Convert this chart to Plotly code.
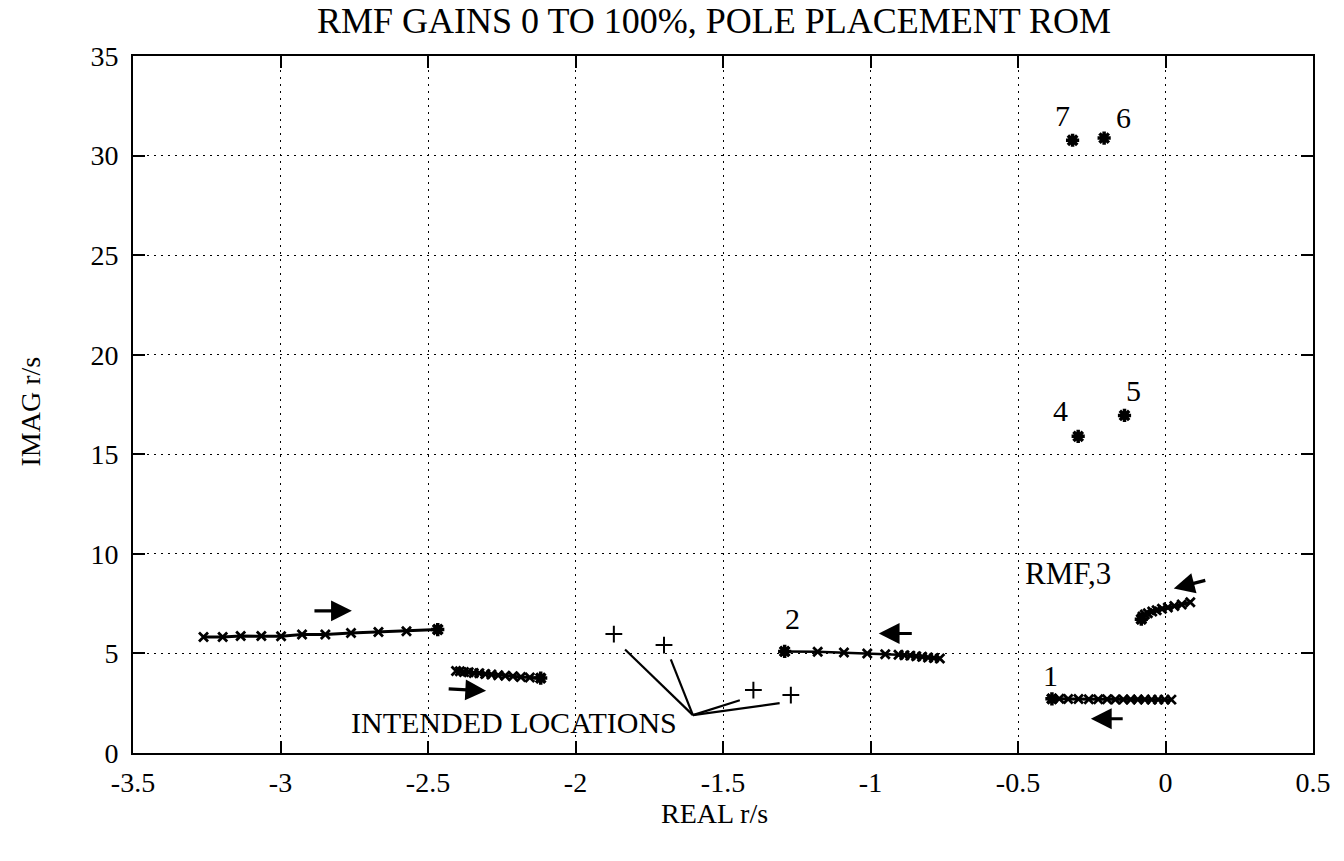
import plotly.graph_objects as go

FONT = "Liberation Serif"

# ---------------- data ----------------
x_ticks = [-3.5, -3, -2.5, -2, -1.5, -1, -0.5, 0, 0.5]
x_tick_text = ["-3.5", "-3", "-2.5", "-2", "-1.5", "-1", "-0.5", "0", "0.5"]
y_ticks = [0, 5, 10, 15, 20, 25, 30, 35]
y_tick_text = ["0", "5", "10", "15", "20", "25", "30", "35"]

# root-locus branches (gain 0 -> 100 %), last point = 100 % gain
locA_x = [-3.261, -3.196, -3.135, -3.065, -2.998, -2.927, -2.848, -2.761, -2.668, -2.573, -2.467]
locA_y = [5.83, 5.83, 5.87, 5.87, 5.86, 5.95, 5.95, 6.03, 6.08, 6.11, 6.20]

locB_x = [-2.405, -2.392, -2.378, -2.362, -2.345, -2.326, -2.306, -2.285, -2.262, -2.238, -2.212, -2.185, -2.155, -2.118]
locB_y = [4.12, 4.10, 4.07, 4.05, 4.02, 4.00, 3.97, 3.94, 3.91, 3.88, 3.85, 3.82, 3.79, 3.76]

loc2_x = [-0.765, -0.785, -0.805, -0.825, -0.845, -0.865, -0.885, -0.905, -0.950, -1.011, -1.090, -1.179, -1.291]
loc2_y = [4.74, 4.77, 4.80, 4.83, 4.86, 4.89, 4.91, 4.93, 4.96, 5.00, 5.05, 5.08, 5.10]

loc3_x = [0.084, 0.055, 0.030, 0.008, -0.012, -0.030, -0.045, -0.060, -0.070, -0.078, -0.082]
loc3_y = [7.57, 7.46, 7.38, 7.31, 7.24, 7.17, 7.10, 7.02, 6.95, 6.85, 6.72]

loc1_x = [0.020, -0.003, -0.025, -0.047, -0.070, -0.094, -0.118, -0.143, -0.170, -0.198, -0.228, -0.260, -0.295, -0.330, -0.360, -0.385]
loc1_y = [2.68, 2.68, 2.68, 2.68, 2.69, 2.69, 2.69, 2.69, 2.69, 2.70, 2.70, 2.70, 2.71, 2.71, 2.72, 2.72]

# fixed poles 4..7
pole_x = [-0.296, -0.139, -0.208, -0.315]
pole_y = [15.9, 16.95, 30.88, 30.77]

# intended locations
tgt_x = [-1.870, -1.700, -1.397, -1.270]
tgt_y = [5.97, 5.42, 3.16, 2.91]

# leader lines for "INTENDED LOCATIONS"
lead_origin = (-1.602, 1.90)
lead_end_x = [-1.832, -1.677, -1.443, -1.308]
lead_end_y = [5.20, 4.70, 2.65, 2.50]

# direction arrows: tail -> head
arr_tail_x = [-2.890, -2.435, -0.855, 0.140, -0.140]
arr_tail_y = [7.14, 3.22, 6.00, 8.69, 1.72]
arr_head_x = [-2.758, -2.303, -0.972, 0.028, -0.253]
arr_head_y = [7.14, 3.12, 6.00, 8.26, 1.72]

# text labels
lab_text = ["1", "2", "4", "5", "6", "7", "RMF,3"]
lab_x = [-0.389, -1.265, -0.355, -0.107, -0.141, -0.349, -0.332]
lab_y = [3.9, 6.75, 17.2, 18.2, 31.9, 32.0, 9.0]

fig = go.Figure()

def branch(xs, ys, lw=3):
    fig.add_trace(go.Scatter(
        x=xs, y=ys, mode="lines+markers",
        line=dict(color="black", width=lw),
        marker=dict(symbol="x-thin", size=9, line=dict(color="black", width=2.8)),
        showlegend=False, hoverinfo="skip"))
    fig.add_trace(go.Scatter(
        x=[xs[-1]], y=[ys[-1]], mode="markers",
        marker=dict(symbol="asterisk", size=11, line=dict(color="black", width=3.5)),
        showlegend=False, hoverinfo="skip"))

branch(locA_x, locA_y)
branch(locB_x, locB_y)
branch(loc2_x, loc2_y, 2.5)
branch(loc3_x, loc3_y)
branch(loc1_x, loc1_y)

fig.add_trace(go.Scatter(
    x=pole_x, y=pole_y, mode="markers",
    marker=dict(symbol="asterisk", size=11, line=dict(color="black", width=3.5)),
    showlegend=False, hoverinfo="skip"))

fig.add_trace(go.Scatter(
    x=tgt_x, y=tgt_y, mode="markers",
    marker=dict(symbol="cross-thin", size=12, line=dict(color="black", width=2)),
    showlegend=False, hoverinfo="skip"))

lx, ly = [], []
for ex, ey in zip(lead_end_x, lead_end_y):
    lx += [lead_origin[0], ex, None]
    ly += [lead_origin[1], ey, None]
fig.add_trace(go.Scatter(x=lx, y=ly, mode="lines",
                         line=dict(color="black", width=2.2),
                         showlegend=False, hoverinfo="skip"))

for tx, ty, hx, hy in zip(arr_tail_x, arr_tail_y, arr_head_x, arr_head_y):
    fig.add_annotation(x=hx, y=hy, ax=tx, ay=ty, xref="x", yref="y",
                       axref="x", ayref="y", text="", showarrow=True,
                       arrowhead=2, arrowsize=1.3, arrowwidth=3.2,
                       arrowcolor="black", standoff=0)

for t, x, y in zip(lab_text, lab_x, lab_y):
    fig.add_annotation(x=x, y=y, text=t, showarrow=False, xref="x", yref="y",
                       xanchor="center", yanchor="middle",
                       font=dict(family=FONT, size=31 if len(t) > 1 else 30, color="black"))

fig.add_annotation(x=-1.65, y=1.55, text="INTENDED LOCATIONS", showarrow=False,
                   xref="x", yref="y", xanchor="right", yanchor="middle",
                   font=dict(family=FONT, size=30, color="black"))

fig.add_annotation(x=0.8305, y=1.019, xref="paper", yref="paper",
                   xanchor="right", yanchor="bottom",
                   text="RMF GAINS 0 TO 100%, POLE PLACEMENT ROM", showarrow=False,
                   font=dict(family=FONT, size=36, color="black"))
fig.add_annotation(x=0.493, y=-0.0875, xref="paper", yref="paper",
                   xanchor="center", yanchor="middle",
                   text="REAL r/s", showarrow=False,
                   font=dict(family=FONT, size=28, color="black"))
fig.add_annotation(x=-0.0873, y=0.49, xref="paper", yref="paper",
                   xanchor="center", yanchor="middle",
                   text="IMAG r/s", showarrow=False, textangle=-90,
                   font=dict(family=FONT, size=28, color="black"))

axis_common = dict(
    showgrid=True, gridcolor="black", gridwidth=1, griddash="2px,5px",
    showline=True, linecolor="black", linewidth=2, mirror="ticks",
    ticks="inside", ticklen=12, tickwidth=2, tickcolor="black",
    zeroline=False, tickfont=dict(family=FONT, size=28, color="black"),
)
fig.update_xaxes(range=[-3.5, 0.5], tickvals=x_ticks, ticktext=x_tick_text,
                 ticklabelstandoff=3, **axis_common)
fig.update_yaxes(range=[0, 35], tickvals=y_ticks, ticktext=y_tick_text,
                 ticklabelstandoff=7, **axis_common)

fig.update_layout(
    width=1344, height=861,
    margin=dict(l=133, r=31, t=56, b=108),
    plot_bgcolor="white", paper_bgcolor="white",
    font=dict(family=FONT, color="black"),
    showlegend=False,
)

fig.write_html("out.html")
